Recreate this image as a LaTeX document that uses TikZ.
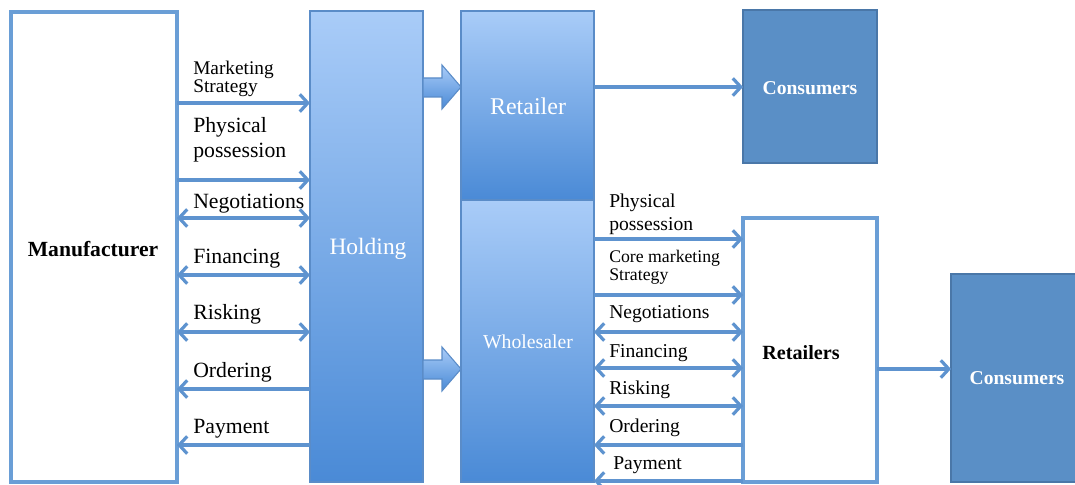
\documentclass[tikz,border=0pt]{standalone}
\usepackage{fontspec}
\setmainfont{Liberation Serif}
\usetikzlibrary{arrows.meta}
\definecolor{arrc}{HTML}{5E93CF}
\definecolor{wborder}{HTML}{6A9ED6}
\definecolor{gborder}{HTML}{5A8CC8}
\definecolor{gtop}{HTML}{A9CCF8}
\definecolor{gbot}{HTML}{4A8AD6}
\definecolor{cfill}{HTML}{5A8FC6}
\definecolor{cborder}{HTML}{4A77A8}
\begin{document}
\begin{tikzpicture}[x=0.75pt,y=-0.75pt,
  gbox/.style={draw=gborder, line width=0.9pt, top color=gtop, bottom color=gbot, inner sep=0pt, outer sep=0pt, text=white},
  wbox/.style={draw=wborder, line width=2.6pt, fill=white, inner sep=0pt, outer sep=0pt, font=\bfseries\fontsize{15.5}{18}\selectfont},
  cbox/.style={draw=cborder, line width=2.2pt, fill=cfill, inner sep=0pt, outer sep=0pt, text=white, font=\bfseries\fontsize{14.7}{17}\selectfont},
  tip/.tip={Straight Barb[length=6pt,width=13pt]},
  arr/.style={draw=arrc, line width=2.4pt, -tip},
  barr/.style={draw=arrc, line width=2.4pt, tip-tip},
  blockarr/.style={draw=gborder, line width=0.8pt, top color=gtop, bottom color=gbot},
  lbl/.style={anchor=base west, inner sep=0pt, align=left},
  bigl/.style={lbl, font=\fontsize{16.3}{18.75}\selectfont},
  midl/.style={lbl, font=\fontsize{14.7}{17.25}\selectfont},
  smll/.style={lbl, font=\fontsize{13.3}{13.5}\selectfont}
]
\clip (0,0) rectangle (1075,485);
\fill[white] (0,0) rectangle (1075,485);

% boxes
\node[wbox, minimum width={166*0.75pt}, minimum height={470*0.75pt}] (man) at (94,247) {};
\node[font=\bfseries\fontsize{16.2}{19}\selectfont] (mant) at (93,249) {Manufacturer};
\node[gbox, minimum width={113*0.75pt}, minimum height={471*0.75pt}] (hold) at (366.5,246.5) {};
\node[font=\fontsize{17.6}{20}\selectfont, text=white] (holdt) at (368,249) {Holding};
\node[gbox, minimum width={133*0.75pt}, minimum height={189*0.75pt}] (ret) at (527.5,105.5) {};
\node[font=\fontsize{18}{20}\selectfont, text=white] (rett) at (528,106) {Retailer};
\node[gbox, minimum width={133*0.75pt}, minimum height={282*0.75pt}] (whl) at (527.5,341) {};
\node[font=\fontsize{14.8}{17}\selectfont, text=white] (whlt) at (528,342) {Wholesaler};
\node[cbox, minimum width={134*0.75pt}, minimum height={153*0.75pt}] (con1) at (810,86.5) {};
\node[text=white, font=\bfseries\fontsize{14.7}{17}\selectfont] (con1t) at (810,88) {Consumers};
\node[wbox, minimum width={134*0.75pt}, minimum height={264*0.75pt}] (rets) at (810,350) {};
\node[font=\bfseries\fontsize{15.1}{18}\selectfont] (retst) at (801,353) {Retailers};
\node[cbox, minimum width={134*0.75pt}, minimum height={208*0.75pt}] (con2) at (1018,378) {};
\node[text=white, font=\bfseries\fontsize{14.7}{17}\selectfont] (con2t) at (1017,378) {Consumers};

% block arrows
\path[blockarr] (hold.east |- 0,78) -- ++(19,0) -- ++(0,-13) -- (ret.west |- 0,87) -- ++(-19,22) -- ++(0,-12) -- ++(-19,0) -- cycle;
\path[blockarr] (hold.east |- 0,360) -- ++(19,0) -- ++(0,-13) -- (whl.west |- 0,369) -- ++(-19,22) -- ++(0,-12) -- ++(-19,0) -- cycle;

% left arrows
\draw[arr] (man.east |- 0,103) -- (hold.west |- 0,103);
\draw[arr] (man.east |- 0,180) -- (hold.west |- 0,180);
\draw[barr] (man.east |- 0,218) -- (hold.west |- 0,218);
\draw[barr] (man.east |- 0,275) -- (hold.west |- 0,275);
\draw[barr] (man.east |- 0,332) -- (hold.west |- 0,332);
\draw[arr] (hold.west |- 0,389) -- (man.east |- 0,389);
\draw[arr] (hold.west |- 0,445) -- (man.east |- 0,445);

% left labels (anchor at baseline of last line)
\node[smll, font=\fontsize{14.5}{13.5}\selectfont] (lm) at (193,93) {Marketing\\Strategy};
\node[bigl] (lp) at (193,157) {Physical\\possession};
\node[bigl] (ln) at (193,208) {Negotiations};
\node[bigl] (lf) at (193,263) {Financing};
\node[bigl] (lr) at (193,319) {Risking};
\node[bigl] (lo) at (193,377) {Ordering};
\node[bigl] (lpa) at (193,433) {Payment};

% right arrows
\draw[arr] (ret.east |- 0,87) -- (con1.west |- 0,87);
\draw[arr] (whl.east |- 0,239) -- (rets.west |- 0,239);
\draw[arr] (whl.east |- 0,295) -- (rets.west |- 0,295);
\draw[barr] (whl.east |- 0,332) -- (rets.west |- 0,332);
\draw[barr] (whl.east |- 0,368) -- (rets.west |- 0,368);
\draw[barr] (whl.east |- 0,406) -- (rets.west |- 0,406);
\draw[arr] (rets.west |- 0,445) -- (whl.east |- 0,445);
\draw[arr] (rets.west |- 0,481) -- (whl.east |- 0,481);
\draw[arr] (rets.east |- 0,369) -- (con2.west |- 0,369);

% right labels
\node[midl] (rp) at (609,230) {Physical\\possession};
\node[smll] (rc) at (609,280) {Core marketing\\Strategy};
\node[midl] (rn) at (609,318) {Negotiations};
\node[midl] (rf) at (609,357) {Financing};
\node[midl] (rr) at (609,394) {Risking};
\node[midl] (ro) at (609,432) {Ordering};
\node[midl] (rpa) at (613,469) {Payment};
\end{tikzpicture}
\end{document}
